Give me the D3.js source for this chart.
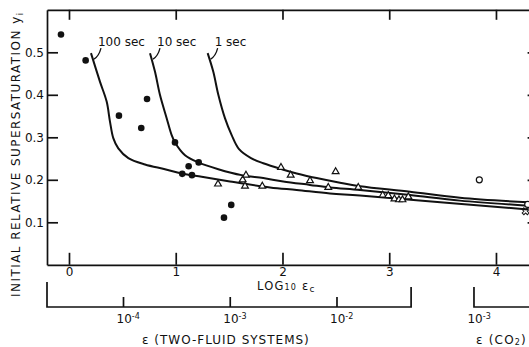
<!DOCTYPE html>
<html>
<head>
<meta charset="utf-8">
<script src="https://cdn.jsdelivr.net/npm/d3@7"></script>
<style>
body { margin:0; background:#fff; }
text { font-family:"DejaVu Sans", sans-serif; fill:#111; }
</style>
</head>
<body>
<div id="chart"></div>
<script>
var xTicks = [0, 1, 2, 3, 4];
var yTicks = [0.1, 0.2, 0.3, 0.4, 0.5];
var twoFluidTicks = [1e-4, 1e-3, 1e-2];
var twoFluidEnd = 0.05;
var twoFluidShift = 4.506;
var co2Ticks = [1e-3];
var co2Shift = 6.794;

var curveNames = ["100 sec", "10 sec", "1 sec"];
var curve100 = [[0.206,0.498],[0.290,0.431],[0.353,0.384],[0.384,0.337],[0.415,0.298],[0.462,0.274],[0.556,0.251],[0.712,0.236],[0.899,0.225],[1.056,0.215],[1.243,0.207],[1.508,0.196],[1.883,0.182],[2.133,0.176],[2.445,0.168],[2.726,0.163],[4.30,0.130]];
var curve10 = [[0.759,0.498],[0.806,0.454],[0.852,0.400],[0.915,0.345],[0.962,0.305],[0.993,0.288],[1.087,0.258],[1.211,0.241],[1.399,0.225],[1.618,0.211],[1.820,0.204],[2.007,0.196],[2.257,0.188],[2.445,0.182],[2.726,0.176],[3.195,0.164],[3.663,0.151],[4.30,0.139]];
var curve1 = [[1.299,0.498],[1.352,0.454],[1.399,0.400],[1.461,0.345],[1.524,0.305],[1.593,0.272],[1.705,0.251],[1.820,0.239],[1.993,0.225],[2.133,0.215],[2.320,0.204],[2.539,0.193],[2.726,0.185],[3.195,0.172],[3.663,0.158],[4.30,0.147]];

var filled = [[-0.075,0.542],[0.156,0.481],[0.468,0.351],[0.677,0.322],[0.731,0.390],[0.993,0.288],[1.215,0.241],[1.121,0.232],[1.061,0.214],[1.152,0.211],[1.520,0.141],[1.452,0.111]];
var triangles = [[1.396,0.190],[1.627,0.200],[1.658,0.211],[1.649,0.185],[1.811,0.185],[1.986,0.229],[2.077,0.211],[2.258,0.198],[2.498,0.219],[2.429,0.182],[2.710,0.182],[2.939,0.164],[2.991,0.163],[3.049,0.155],[3.091,0.153],[3.124,0.153],[3.179,0.160]];
var openCircles = [[3.844,0.200],[4.297,0.142]];
var crosses = [[4.278,0.126]];

var w = 529;
var h = 347;

var x = d3.scaleLinear().domain([-0.206, 4.39]).range([47, 537.6]);
var y = d3.scaleLinear().domain([0, 0.6]).range([264.8, 9.8]);

var x2 = d3.scaleLog()
  .domain([Math.pow(10, x.domain()[0] - twoFluidShift), Math.pow(10, x.domain()[1] - twoFluidShift)])
  .range(x.range());
var x3 = d3.scaleLog()
  .domain([Math.pow(10, x.domain()[0] - co2Shift), Math.pow(10, x.domain()[1] - co2Shift)])
  .range(x.range());

var svg = d3.select("#chart")
  .append("svg")
  .attr("width", w)
  .attr("height", h)
  .style("background", "#fff");

function styleAxis(g){
  g.selectAll("path, line").attr("stroke", "#111").attr("stroke-width", 1.7);
  g.selectAll("text").style("font-family", "'DejaVu Sans', sans-serif").style("font-size", "12px").attr("fill", "#111");
}

svg.append("g")
  .attr("transform", "translate(" + x.range()[0] + ",0)")
  .call(d3.axisLeft(y).tickValues(yTicks).tickSizeInner(-11).tickSizeOuter(0).tickPadding(3).tickFormat(d3.format(".1f")))
  .call(styleAxis);

svg.append("g")
  .attr("transform", "translate(" + x.range()[1] + ",0)")
  .call(d3.axisRight(y).tickValues(yTicks).tickSizeInner(-10).tickSizeOuter(0).tickFormat(""))
  .call(styleAxis);

svg.append("g")
  .attr("transform", "translate(0," + y(0) + ")")
  .call(d3.axisBottom(x).tickValues(xTicks).tickSizeInner(-12).tickSizeOuter(0).tickPadding(3).tickFormat(d3.format("d")))
  .call(styleAxis);

svg.append("g")
  .attr("transform", "translate(0," + y(0.6) + ")")
  .call(d3.axisTop(x).tickValues(xTicks).tickSizeInner(-10).tickSizeOuter(0).tickFormat(""))
  .call(styleAxis);

function powerLabels(g){
  g.selectAll(".tick text").each(function(d){
    var t = d3.select(this).text(null).attr("text-anchor", "start").attr("x", -7);
    t.append("tspan").text("10");
    t.append("tspan").attr("dy", "-0.45em").style("font-size", "8px").text("-" + Math.round(-Math.log10(d)));
  });
}

var axisY2 = 307;
svg.append("g")
  .attr("transform", "translate(0," + axisY2 + ")")
  .call(d3.axisBottom(x2).tickValues(twoFluidTicks).tickSizeInner(-10).tickSizeOuter(0).tickPadding(7))
  .call(styleAxis)
  .call(powerLabels)
  .select(".domain").remove();

svg.append("path")
  .attr("d", "M" + x.range()[0] + "," + (axisY2 - 25) + "V" + axisY2 + "H" + x2(twoFluidEnd) + "V" + (axisY2 - 20))
  .attr("fill", "none").attr("stroke", "#111").attr("stroke-width", 1.7);

svg.append("g")
  .attr("transform", "translate(0," + axisY2 + ")")
  .call(d3.axisBottom(x3).tickValues(co2Ticks).tickSizeInner(0).tickSizeOuter(0).tickPadding(7))
  .call(styleAxis)
  .call(powerLabels)
  .select(".domain").remove();

svg.append("path")
  .attr("d", "M" + x3(co2Ticks[0]) + "," + (axisY2 - 20) + "V" + axisY2 + "H" + x.range()[1])
  .attr("fill", "none").attr("stroke", "#111").attr("stroke-width", 1.7);

var line = d3.line()
  .x(function(d){ return x(d[0]); })
  .y(function(d){ return y(d[1]); })
  .curve(d3.curveCatmullRom.alpha(0.5));

var curves = [curve100, curve10, curve1];
var plot = svg.append("g");

plot.selectAll("path.curve")
  .data(curves)
  .enter()
  .append("path")
  .attr("class", "curve")
  .attr("d", line)
  .attr("fill", "none")
  .attr("stroke", "#111")
  .attr("stroke-width", 2);

plot.selectAll("path.leader")
  .data(curves)
  .enter()
  .append("path")
  .attr("class", "leader")
  .attr("d", function(d){
    var px = x(d[0][0]), py = y(d[0][1]);
    return "M" + (px + 3) + "," + (py + 6) + "Q" + (px + 8) + "," + (py + 3) + " " + (px + 10) + "," + (py - 5);
  })
  .attr("fill", "none")
  .attr("stroke", "#111")
  .attr("stroke-width", 1.3);

plot.selectAll("text.curvelabel")
  .data(curves)
  .enter()
  .append("text")
  .attr("class", "curvelabel")
  .attr("x", function(d){ return x(d[0][0]) + 7; })
  .attr("y", function(d){ return y(d[0][1]) - 7; })
  .style("font-size", "12px")
  .text(function(d, i){ return curveNames[i]; });

plot.selectAll("circle.filled")
  .data(filled)
  .enter()
  .append("circle")
  .attr("class", "filled")
  .attr("cx", function(d){ return x(d[0]); })
  .attr("cy", function(d){ return y(d[1]); })
  .attr("r", 3.3)
  .attr("fill", "#111");

plot.selectAll("path.tri")
  .data(triangles)
  .enter()
  .append("path")
  .attr("class", "tri")
  .attr("transform", function(d){ return "translate(" + x(d[0]) + "," + y(d[1]) + ")"; })
  .attr("d", d3.symbol().type(d3.symbolTriangle).size(20))
  .attr("fill", "#fff")
  .attr("stroke", "#111")
  .attr("stroke-width", 1.2);

plot.selectAll("circle.open")
  .data(openCircles)
  .enter()
  .append("circle")
  .attr("class", "open")
  .attr("cx", function(d){ return x(d[0]); })
  .attr("cy", function(d){ return y(d[1]); })
  .attr("r", 3)
  .attr("fill", "#fff")
  .attr("stroke", "#111")
  .attr("stroke-width", 1.2);

plot.selectAll("path.cross")
  .data(crosses)
  .enter()
  .append("path")
  .attr("class", "cross")
  .attr("transform", function(d){ return "translate(" + x(d[0]) + "," + y(d[1]) + ") rotate(45)"; })
  .attr("d", d3.symbol().type(d3.symbolCross).size(30))
  .attr("fill", "none")
  .attr("stroke", "#111")
  .attr("stroke-width", 1);

// axis titles
var ylab = svg.append("text")
  .attr("transform", "translate(20,155) rotate(-90)")
  .attr("text-anchor", "middle")
  .attr("textLength", 284)
  .attr("lengthAdjust", "spacing")
  .style("font-size", "12px");
ylab.append("tspan").text("INITIAL RELATIVE SUPERSATURATION y");
ylab.append("tspan").attr("dy", 3).style("font-size", "8px").text("i");

var xlab = svg.append("text")
  .attr("x", 257)
  .attr("y", 290)
  .style("font-size", "11.5px")
  .style("letter-spacing", "1.2px");
xlab.append("tspan").text("LOG");
xlab.append("tspan").style("font-size", "8px").text("10");
xlab.append("tspan").text(" \u03b5");
xlab.append("tspan").attr("dy", 2).style("font-size", "9px").text("c");

svg.append("text")
  .attr("x", 142)
  .attr("y", 343.5)
  .style("font-size", "12px")
  .style("letter-spacing", "1px")
  .text("\u03b5 (TWO-FLUID SYSTEMS)");

var co2lab = svg.append("text")
  .attr("x", 476)
  .attr("y", 343.5)
  .style("font-size", "12px")
  .style("letter-spacing", "1.2px");
co2lab.append("tspan").text("\u03b5 (CO");
co2lab.append("tspan").attr("dy", 1.5).style("font-size", "8px").text("2");
co2lab.append("tspan").attr("dy", -1.5).text(")");
</script>
</body>
</html>
